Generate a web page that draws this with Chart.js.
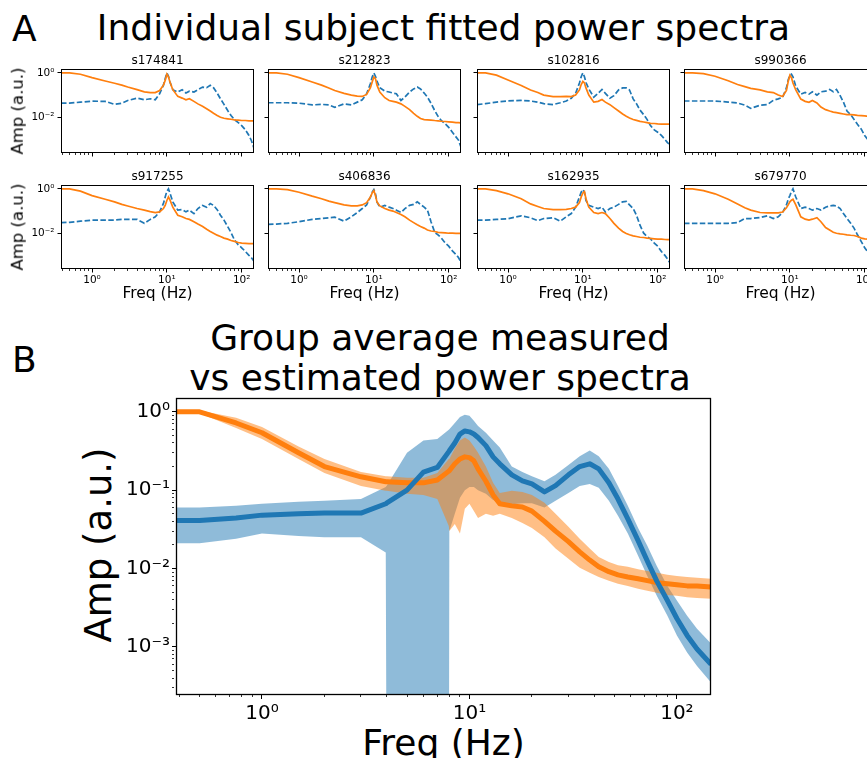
<!DOCTYPE html>
<html><head><meta charset="utf-8">
<script src="https://cdn.jsdelivr.net/npm/chart.js@4.4.0/dist/chart.umd.min.js"></script>
<style>
html,body{margin:0;padding:0;background:#fff;}
body{width:867px;height:758px;overflow:hidden;position:relative;font-family:"DejaVu Sans",sans-serif;color:#000;}
.t{position:absolute;white-space:nowrap;line-height:1;}
.c{transform:translateX(-50%);}
.r{transform:translate(-50%,-50%) rotate(-90deg);}
canvas{position:absolute;}
</style></head><body>
<div class="t" style="left:12px;top:11px;font-size:36px">A</div>
<div class="t c" style="left:443.5px;top:10px;font-size:36px">Individual subject fitted power spectra</div>
<div class="t" style="left:12px;top:341.5px;font-size:36px">B</div>
<div class="t c" style="left:440px;top:319.5px;font-size:36px">Group average measured</div>
<div class="t c" style="left:440px;top:359.5px;font-size:36px">vs estimated power spectra</div>
<div class="t c" style="left:443.5px;top:725px;font-size:36px">Freq (Hz)</div>
<div class="t r" style="left:98px;top:545px;font-size:37px">Amp (a.u.)</div>
<script>
// ---------------- DATA ----------------
const SUBJECTS = ['s174841','s212823','s102816','s990366','s917255','s406836','s162935','s679770'];
const FREQ_SUB = [0.385,0.5,0.7,1,1.5,2,2.5,3,4,5,6,7,8,9,9.5,10,10.5,11,12,14,16,18,20,23,26,30,34,38,42,47,52,58,65,72,80,90,100,112,125,135,146];

const S174841_FIT  = [1.0,1.0,0.87,0.61,0.43,0.34,0.28,0.23,0.175,0.14,0.128,0.13,0.16,0.28,0.46,0.87,0.66,0.39,0.175,0.087,0.073,0.061,0.068,0.052,0.04,0.031,0.024,0.019,0.015,0.012,0.01,0.009,0.0085,0.0081,0.0076,0.0074,0.0071,0.0071,0.0069,0.0069,0.0069];
const S174841_MEAS = [0.043,0.043,0.048,0.053,0.052,0.038,0.043,0.057,0.073,0.061,0.068,0.061,0.115,0.28,0.55,1.0,0.71,0.39,0.175,0.137,0.175,0.123,0.15,0.137,0.175,0.23,0.215,0.275,0.215,0.123,0.068,0.038,0.02,0.012,0.0078,0.0057,0.0042,0.0027,0.0015,0.00087,0.0004];
const S212823_FIT  = [1.0,1.0,0.87,0.61,0.39,0.28,0.21,0.16,0.12,0.1,0.09,0.087,0.107,0.215,0.39,0.66,0.55,0.28,0.137,0.076,0.057,0.052,0.048,0.04,0.031,0.022,0.015,0.011,0.0087,0.0078,0.0076,0.0074,0.0071,0.0069,0.0066,0.0064,0.0062,0.006,0.0057,0.0057,0.0055];
const S212823_MEAS = [0.045,0.045,0.045,0.043,0.036,0.038,0.036,0.028,0.04,0.036,0.048,0.061,0.115,0.33,0.66,1.0,0.71,0.43,0.215,0.15,0.137,0.123,0.115,0.057,0.081,0.137,0.19,0.23,0.19,0.123,0.081,0.043,0.02,0.011,0.007,0.005,0.0035,0.0021,0.0013,0.00093,0.00044];
const S102816_FIT  = [1.0,1.0,0.79,0.48,0.27,0.17,0.13,0.1,0.085,0.085,0.088,0.085,0.1,0.17,0.3,0.41,0.35,0.21,0.1,0.048,0.052,0.063,0.048,0.037,0.027,0.019,0.014,0.011,0.0093,0.0079,0.0072,0.0065,0.0061,0.0057,0.0053,0.0052,0.005,0.0049,0.0049,0.0049,0.0049];
const S102816_MEAS = [0.037,0.041,0.048,0.055,0.057,0.054,0.048,0.041,0.037,0.045,0.054,0.072,0.12,0.35,0.67,1.0,0.67,0.37,0.19,0.08,0.12,0.18,0.12,0.072,0.094,0.17,0.21,0.21,0.17,0.067,0.041,0.021,0.013,0.008,0.0042,0.0027,0.0021,0.0015,0.001,0.00072,0.00058];
const S990366_FIT  = [1.0,1.0,0.93,0.71,0.44,0.3,0.24,0.2,0.17,0.14,0.13,0.1,0.086,0.16,0.41,0.79,0.62,0.35,0.17,0.066,0.052,0.047,0.057,0.044,0.029,0.022,0.019,0.017,0.016,0.015,0.014,0.013,0.013,0.0127,0.0122,0.0118,0.0114,0.011,0.0107,0.0107,0.0104];
const S990366_MEAS = [0.054,0.054,0.054,0.054,0.048,0.044,0.035,0.025,0.035,0.037,0.058,0.067,0.079,0.21,0.48,0.79,0.87,0.67,0.25,0.11,0.13,0.11,0.14,0.1,0.14,0.15,0.18,0.14,0.18,0.094,0.048,0.019,0.013,0.008,0.0048,0.0029,0.0015,0.0009,0.0006,0.0005,0.0004];
const S917255_FIT  = [1.0,1.0,0.79,0.5,0.34,0.26,0.2,0.17,0.13,0.11,0.095,0.086,0.092,0.13,0.18,0.3,0.43,0.32,0.15,0.065,0.055,0.046,0.042,0.033,0.026,0.02,0.015,0.012,0.01,0.0082,0.0071,0.006,0.0054,0.0047,0.0043,0.0038,0.0036,0.0035,0.0034,0.0034,0.0034];
const S917255_MEAS = [0.03,0.031,0.035,0.039,0.039,0.039,0.042,0.042,0.042,0.028,0.042,0.055,0.092,0.22,0.43,0.79,1.0,0.64,0.26,0.11,0.116,0.092,0.11,0.077,0.13,0.18,0.15,0.22,0.18,0.116,0.065,0.039,0.02,0.0107,0.005,0.003,0.0022,0.0015,0.001,0.00078,0.00054];
const S406836_FIT  = [1.0,1.0,0.93,0.71,0.47,0.36,0.28,0.24,0.19,0.17,0.17,0.19,0.24,0.43,0.66,0.84,0.5,0.26,0.17,0.13,0.11,0.1,0.086,0.07,0.055,0.039,0.03,0.024,0.02,0.017,0.014,0.0126,0.012,0.011,0.0107,0.0104,0.01,0.01,0.0098,0.0098,0.0098];
const S406836_MEAS = [0.025,0.026,0.028,0.033,0.042,0.046,0.05,0.053,0.035,0.055,0.086,0.13,0.19,0.43,0.71,0.93,0.6,0.26,0.15,0.18,0.15,0.13,0.11,0.086,0.13,0.18,0.2,0.26,0.2,0.15,0.11,0.033,0.011,0.0085,0.006,0.0036,0.0026,0.0016,0.0011,0.0008,0.0005];
const S162935_FIT  = [1.0,1.0,0.84,0.6,0.36,0.21,0.16,0.13,0.117,0.117,0.12,0.13,0.15,0.24,0.43,0.66,0.76,0.36,0.15,0.086,0.077,0.086,0.077,0.046,0.028,0.017,0.012,0.0098,0.0085,0.0076,0.0071,0.0066,0.0064,0.006,0.0058,0.0056,0.0054,0.0054,0.0052,0.0051,0.0051];
const S162935_MEAS = [0.039,0.039,0.042,0.045,0.061,0.05,0.037,0.046,0.05,0.035,0.055,0.077,0.15,0.43,0.71,0.93,0.71,0.3,0.18,0.15,0.13,0.15,0.09,0.13,0.15,0.2,0.26,0.27,0.19,0.13,0.065,0.023,0.01,0.0071,0.0056,0.0036,0.0026,0.0015,0.001,0.0007,0.00046];
const S679770_FIT  = [1.0,1.0,0.84,0.6,0.34,0.21,0.14,0.11,0.086,0.083,0.083,0.083,0.09,0.14,0.19,0.26,0.31,0.34,0.19,0.055,0.043,0.039,0.043,0.05,0.033,0.018,0.014,0.011,0.01,0.0093,0.009,0.0085,0.0081,0.0079,0.0071,0.006,0.0056,0.0054,0.0052,0.0052,0.0051];
const S679770_MEAS = [0.028,0.028,0.028,0.028,0.028,0.03,0.046,0.046,0.051,0.061,0.046,0.055,0.086,0.19,0.34,0.5,0.76,1.0,0.43,0.13,0.15,0.13,0.11,0.13,0.11,0.15,0.17,0.18,0.17,0.13,0.077,0.046,0.028,0.017,0.0085,0.0042,0.0022,0.0013,0.0008,0.00055,0.0004];

const SUB_FIT  = [S174841_FIT,S212823_FIT,S102816_FIT,S990366_FIT,S917255_FIT,S406836_FIT,S162935_FIT,S679770_FIT];
const SUB_MEAS = [S174841_MEAS,S212823_MEAS,S102816_MEAS,S990366_MEAS,S917255_MEAS,S406836_MEAS,S162935_MEAS,S679770_MEAS];

// group average (panel B)
const FREQ_GRP = [0.385,0.5,0.75,1,1.5,2,3,3.95,4,5,6,7,7.95,8,8.5,9,9.5,10,10.5,11,12,13,14,16,18,20,23,26,30,34,38,42,47,52,58,65,72,80,90,100,112,125,146];
const GRP_MEAS_MEAN = [0.041,0.041,0.044,0.048,0.05,0.051,0.051,0.067,0.069,0.1,0.17,0.195,0.31,0.318,0.4,0.52,0.57,0.555,0.52,0.47,0.37,0.266,0.217,0.157,0.131,0.12,0.095,0.114,0.157,0.2,0.217,0.187,0.124,0.077,0.043,0.0227,0.0125,0.0069,0.0039,0.0023,0.0014,0.00094,0.0006];
const GRP_MEAS_UP   = [0.06,0.06,0.063,0.067,0.071,0.073,0.077,0.11,0.115,0.3,0.43,0.45,0.59,0.6,0.72,0.86,0.92,0.89,0.77,0.66,0.54,0.43,0.35,0.2,0.17,0.15,0.13,0.157,0.21,0.27,0.32,0.27,0.187,0.113,0.063,0.033,0.0195,0.0108,0.006,0.0039,0.0025,0.0017,0.0011];
const GRP_MEAS_LO   = [0.021,0.021,0.024,0.028,0.026,0.025,0.025,0.016,1e-6,1e-6,1e-6,1e-6,1e-6,0.03,0.05,0.08,0.1,0.11,0.11,0.1,0.09,0.075,0.07,0.066,0.068,0.068,0.06,0.073,0.092,0.113,0.12,0.107,0.073,0.047,0.028,0.0145,0.008,0.0045,0.0025,0.0014,0.00085,0.00057,0.00035];
const GRP_FIT_MEAN  = [1.0,1.0,0.72,0.54,0.3,0.2,0.148,0.128,0.128,0.124,0.124,0.135,0.175,0.177,0.217,0.25,0.266,0.26,0.237,0.187,0.13,0.087,0.067,0.063,0.061,0.054,0.04,0.03,0.022,0.0163,0.0128,0.0105,0.0091,0.0083,0.0078,0.0074,0.007,0.0066,0.0064,0.0062,0.006,0.006,0.0058];
const GRP_FIT_UP    = [1.04,1.04,0.84,0.64,0.36,0.25,0.17,0.15,0.15,0.144,0.144,0.166,0.25,0.25,0.34,0.43,0.47,0.43,0.36,0.3,0.2,0.124,0.092,0.098,0.095,0.087,0.069,0.05,0.034,0.024,0.018,0.014,0.0121,0.011,0.0105,0.0098,0.0093,0.0088,0.0083,0.008,0.0078,0.0076,0.0074];
const GRP_FIT_LO    = [0.96,0.96,0.62,0.45,0.25,0.166,0.113,0.098,0.098,0.09,0.087,0.077,0.035,0.03,0.037,0.028,0.058,0.067,0.054,0.044,0.05,0.047,0.05,0.044,0.038,0.033,0.025,0.018,0.0133,0.0102,0.0088,0.0078,0.007,0.0064,0.006,0.0055,0.0052,0.0049,0.0046,0.0045,0.0043,0.0042,0.0041];

// axes / ticks
const X_MIN = 0.385, X_MAX = 146;
const Y_MIN = 2.43e-4, Y_MAX = 1.5;
const X_MAJOR = [1,10,100];
const X_LABELS = ['10\u2070','10\u00b9','10\u00b2'];
const X_MINOR = [0.4,0.5,0.6,0.7,0.8,0.9,2,3,4,5,6,7,8,9,20,30,40,50,60,70,80,90];
const Y_MAJOR_GRP = [0.001,0.01,0.1,1];
const Y_LABELS_GRP = ['10\u207b\u00b3','10\u207b\u00b2','10\u207b\u00b9','10\u2070'];
const Y_MINOR_GRP = [0.0003,0.0004,0.0005,0.0006,0.0007,0.0008,0.0009,0.002,0.003,0.004,0.005,0.006,0.007,0.008,0.009,0.02,0.03,0.04,0.05,0.06,0.07,0.08,0.09,0.2,0.3,0.4,0.5,0.6,0.7,0.8,0.9];
const Y_MAJOR_SUB = [0.01,1];
const Y_LABELS_SUB = ['10\u207b\u00b2','10\u2070'];

// ---------------- RENDER ----------------
const FONT = '"DejaVu Sans", sans-serif';
const BLUE = '#1f77b4', ORANGE = '#ff7f0e';
const BLUE_BAND = 'rgba(31,119,180,0.5)', ORANGE_BAND = 'rgba(255,127,14,0.5)';
const pts = (xs, ys) => xs.map((x, i) => ({x: x, y: ys[i]}));

const framePlugin = {
  id: 'frame',
  afterDatasetsDraw(chart, args, o) {
    const a = chart.chartArea, ctx = chart.ctx;
    ctx.save();
    ctx.strokeStyle = o.color || '#000';
    ctx.lineWidth = o.width || 1;
    ctx.strokeRect(Math.round(a.left) + 0.5, Math.round(a.top) + 0.5,
                   Math.round(a.right - a.left) - 1, Math.round(a.bottom - a.top) - 1);
    ctx.restore();
  }
};

function axis(kind, major, labels, minor, o) {
  const isX = kind === 'x';
  const all = major.concat(minor).sort((a, b) => a - b);
  const isMaj = c => c.tick && major.indexOf(c.tick.value) >= 0;
  return {
    type: 'logarithmic', position: isX ? 'bottom' : 'left',
    min: isX ? X_MIN : Y_MIN, max: isX ? X_MAX : Y_MAX,
    afterBuildTicks: s => { s.ticks = all.map(v => ({value: v})); },
    afterFit: s => {
      if (isX) s.height = o.size; else s.width = o.size;
      s.paddingLeft = 0; s.paddingRight = 0; s.paddingTop = 0; s.paddingBottom = 0;
    },
    ticks: {
      display: o.labels, autoSkip: false, maxRotation: 0, minRotation: 0,
      padding: o.pad, color: '#000', font: {family: FONT, size: o.fs},
      callback: v => { const i = major.indexOf(v); return i >= 0 ? labels[i] : ''; }
    },
    grid: {
      display: true, drawOnChartArea: false, drawTicks: true, tickLength: o.tl,
      tickColor: '#000',
      tickWidth: c => isMaj(c) ? 1 : 0.8,
      tickBorderDash: c => isMaj(c) ? [] : [o.minor, 100]
    },
    border: {display: false}
  };
}

function makeChart(left, top, w, h, pad, datasets, scales, frameW) {
  const cv = document.createElement('canvas');
  cv.width = w; cv.height = h;
  cv.style.left = left + 'px'; cv.style.top = top + 'px';
  cv.style.width = w + 'px'; cv.style.height = h + 'px';
  document.body.appendChild(cv);
  return new Chart(cv.getContext('2d'), {
    type: 'line',
    data: {datasets: datasets},
    options: {
      responsive: false, animation: false, events: [],
      devicePixelRatio: 1,
      layout: {padding: pad},
      elements: {point: {radius: 0}, line: {tension: 0}},
      plugins: {legend: {display: false}, tooltip: {enabled: false}, frame: {width: frameW, color: '#000'}},
      scales: scales
    },
    plugins: [framePlugin]
  });
}

function addText(txt, x, y, fs, cls) {
  const d = document.createElement('div');
  d.className = 't ' + cls;
  d.style.left = x + 'px'; d.style.top = y + 'px'; d.style.fontSize = fs + 'px';
  d.textContent = txt;
  document.body.appendChild(d);
}

// Panel A: individual subjects
const COL_LEFT = [61, 268, 477, 684];
const ROW_TOP = [69, 185];
const PW = 193, PH = 84, YW = 45, PT = 6, PR = 6, XH = 24;
SUBJECTS.forEach((name, k) => {
  const row = k < 4 ? 0 : 1, col = k % 4;
  const L = COL_LEFT[col], T = ROW_TOP[row];
  const ds = [
    {data: pts(FREQ_SUB, SUB_FIT[k]), borderColor: ORANGE, borderWidth: 1.7, fill: false, order: 0, clip: 0},
    {data: pts(FREQ_SUB, SUB_MEAS[k]), borderColor: BLUE, borderWidth: 1.7, borderDash: [5.5, 2.4], fill: false, order: 1, clip: 0}
  ];
  makeChart(L - YW, T - PT, YW + PW + PR, PT + PH + XH, {left: 0, top: PT, right: PR, bottom: 0}, ds, {
    x: axis('x', X_MAJOR, X_LABELS, X_MINOR, {size: XH, labels: row === 1, pad: 1, fs: 10.5, tl: 3.5, minor: 2}),
    y: axis('y', Y_MAJOR_SUB, Y_LABELS_SUB, [], {size: YW, labels: col === 0, pad: 3, fs: 10.5, tl: 3.5, minor: 2})
  }, 1);
  addText(name, L + PW / 2, (row === 0 ? 64 : 180) - 0.846 * 12, 12, 'c');
  if (col === 0) addText('Amp (a.u.)', 18, T + PH / 2, 16.5, 'r');
  if (row === 1) addText('Freq (Hz)', L + PW / 2, 299 - 0.846 * 15.5, 15.5, 'c');
});

// Panel B: group average
const BL = 176, BT = 398, BW = 535, BH = 297, BYW = 80, BPT = 10, BPR = 12, BXH = 45;
makeChart(BL - BYW, BT - BPT, BYW + BW + BPR, BPT + BH + BXH, {left: 0, top: BPT, right: BPR, bottom: 0}, [
  {data: pts(FREQ_GRP, GRP_MEAS_MEAN), borderColor: BLUE, borderWidth: 5, fill: false, order: 0, clip: 0, borderJoinStyle: 'round'},
  {data: pts(FREQ_GRP, GRP_FIT_MEAN), borderColor: ORANGE, borderWidth: 5, fill: false, order: 1, clip: 0, borderJoinStyle: 'round'},
  {data: pts(FREQ_GRP, GRP_FIT_UP), borderColor: 'rgba(0,0,0,0)', borderWidth: 0, backgroundColor: ORANGE_BAND, fill: '+1', order: 2, clip: 0},
  {data: pts(FREQ_GRP, GRP_FIT_LO), borderColor: 'rgba(0,0,0,0)', borderWidth: 0, fill: false, order: 3, clip: 0},
  {data: pts(FREQ_GRP, GRP_MEAS_UP), borderColor: 'rgba(0,0,0,0)', borderWidth: 0, backgroundColor: BLUE_BAND, fill: '+1', order: 4, clip: 0},
  {data: pts(FREQ_GRP, GRP_MEAS_LO), borderColor: 'rgba(0,0,0,0)', borderWidth: 0, fill: false, order: 5, clip: 0}
], {
  x: axis('x', X_MAJOR, X_LABELS, X_MINOR, {size: BXH, labels: true, pad: 3, fs: 20, tl: 4, minor: 2}),
  y: axis('y', Y_MAJOR_GRP, Y_LABELS_GRP, Y_MINOR_GRP, {size: BYW, labels: true, pad: 2, fs: 20, tl: 4, minor: 2})
}, 1.3);
</script>
</body></html>
